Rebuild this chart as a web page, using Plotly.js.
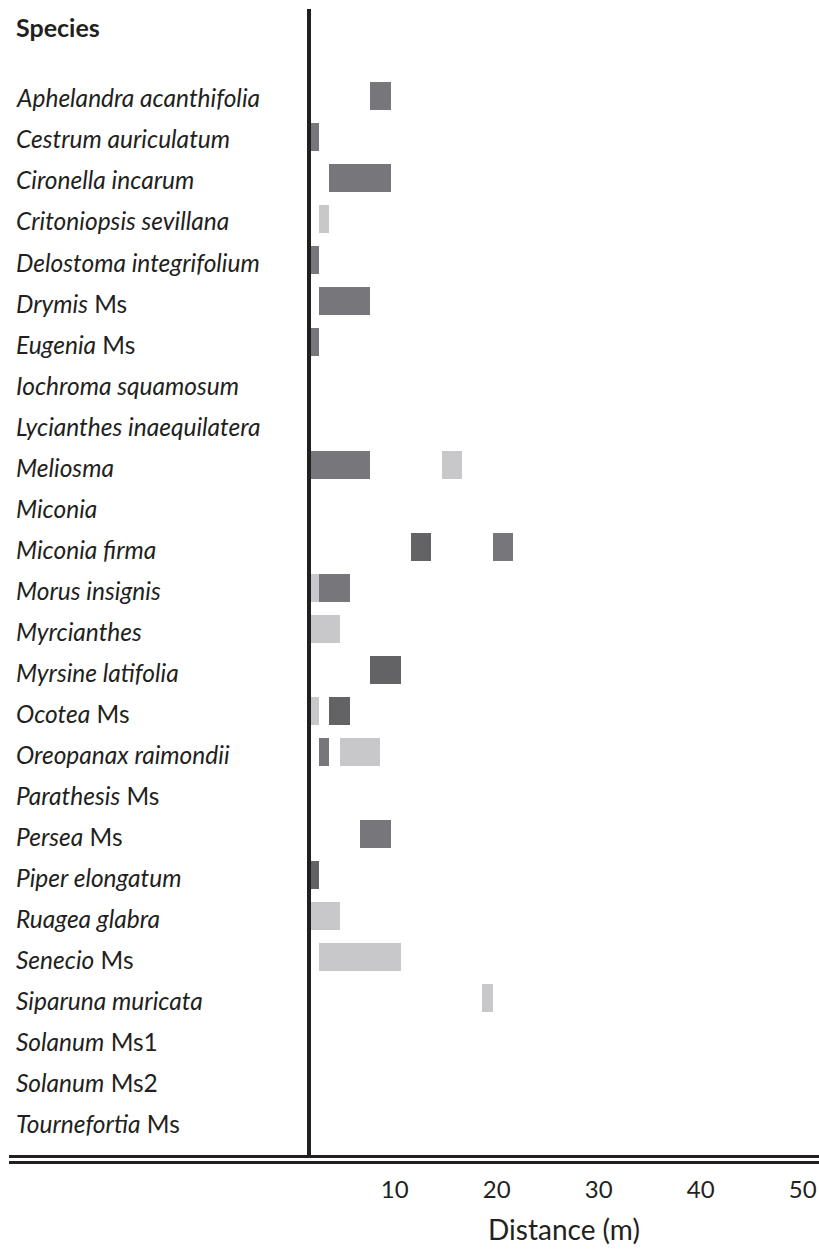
<!DOCTYPE html>
<html>
<head>
<meta charset="utf-8">
<script src="https://cdn.plot.ly/plotly-3.0.1.min.js"></script>
<style>html,body{margin:0;padding:0;background:#fff;}#chart{width:819px;height:1250px;}</style>
</head>
<body>
<div id="chart"></div>
<script>
// ---- Data ----
var speciesGenus = ["Aphelandra acanthifolia","Cestrum auriculatum","Cironella incarum","Critoniopsis sevillana","Delostoma integrifolium","Drymis","Eugenia","Iochroma squamosum","Lycianthes inaequilatera","Meliosma","Miconia","Miconia firma","Morus insignis","Myrcianthes","Myrsine latifolia","Ocotea","Oreopanax raimondii","Parathesis","Persea","Piper elongatum","Ruagea glabra","Senecio","Siparuna muricata","Solanum","Solanum","Tournefortia"];
var speciesQualifier = ["","","","","","Ms","Ms","","","","","","","","","Ms","","Ms","Ms","","","Ms","","Ms1","Ms2","Ms"];

// medium grey segments
var mediumSpecies = ["Aphelandra acanthifolia","Cestrum auriculatum","Cironella incarum","Delostoma integrifolium","Drymis Ms","Eugenia Ms","Meliosma","Miconia firma","Morus insignis","Oreopanax raimondii","Persea Ms"];
var mediumStart = [6,0,2,0,1,0,0,18,1,1,5];
var mediumEnd   = [8,1,8,1,6,1,6,20,4,2,8];
// dark grey segments
var darkSpecies = ["Miconia firma","Myrsine latifolia","Ocotea Ms","Piper elongatum"];
var darkStart = [10,6,2,0];
var darkEnd   = [12,9,4,1];
// light grey segments
var lightSpecies = ["Critoniopsis sevillana","Meliosma","Morus insignis","Myrcianthes","Ocotea Ms","Oreopanax raimondii","Ruagea glabra","Senecio Ms","Siparuna muricata"];
var lightStart = [1,13,0,0,0,3,0,1,17];
var lightEnd   = [2,15,1,3,1,7,3,9,18];

var tickValues = [10,20,30,40,50];
var tickLabels = ["10","20","30","40","50"];

// ---- Build ----
var categories = speciesGenus.map(function(g,i){ return speciesQualifier[i] ? g+" "+speciesQualifier[i] : g; });
function seg(names, s, e, color){
  return {type:"bar", orientation:"h", y:names, base:s,
    x:e.map(function(v,i){return v - s[i];}),
    marker:{color:color, line:{width:0}}, width:0.68, hoverinfo:"skip", showlegend:false};
}
var data = [
  seg(mediumSpecies, mediumStart, mediumEnd, "#77777b"),
  seg(darkSpecies, darkStart, darkEnd, "#636366"),
  seg(lightSpecies, lightStart, lightEnd, "#c8c8ca")
];

var FONT = "Lato, 'Open Sans', sans-serif";
var W = 819, H = 1250, mL = 309, mR = 0, mT = 9, mB = 93;
var plotW = W - mL - mR, plotH = H - mT - mB;
function px2paperX(px){ return (px - mL)/plotW; }
function px2paperY(py){ return (H - mB - py)/plotH; }

var labelShift = 1.6; // labels printed slightly left of their nominal position
var annotations = categories.map(function(c,i){
  var txt = "<i>"+speciesGenus[i]+"</i>" + (speciesQualifier[i] ? " "+speciesQualifier[i] : "");
  return {xref:"paper", yref:"y", x:px2paperX(14), y:c, xanchor:"left", yanchor:"middle",
    text:txt, showarrow:false, font:{family:FONT, size:24.5, color:"#231f20"}, yshift:-2};
});
annotations.push({xref:"paper", yref:"paper", x:px2paperX(14), y:px2paperY(27), xanchor:"left", yanchor:"middle",
  text:"<b>Species</b>", showarrow:false, font:{family:FONT, size:25, color:"#231f20"}});

var shapes = [
  {type:"line", xref:"paper", yref:"paper", x0:0, x1:0, y0:px2paperY(1155), y1:px2paperY(9), line:{color:"#231f20", width:4}, layer:"above"},
  {type:"line", xref:"paper", yref:"paper", x0:px2paperX(9), x1:1, y0:px2paperY(1156.5), y1:px2paperY(1156.5), line:{color:"#231f20", width:3}, layer:"above"},
  {type:"line", xref:"paper", yref:"paper", x0:px2paperX(9), x1:1, y0:px2paperY(1162.5), y1:px2paperY(1162.5), line:{color:"#231f20", width:3}, layer:"above"}
];

var layout = {
  width:W, height:H, margin:{l:mL, r:mR, t:mT, b:mB},
  paper_bgcolor:"#fff", plot_bgcolor:"#fff",
  barmode:"overlay", bargap:0,
  font:{family:FONT, color:"#231f20"},
  xaxis:{range:[0,50], showgrid:false, zeroline:false, showline:false, ticks:"",
    tickmode:"array", tickvals:tickValues.map(function(v){return v - labelShift;}), ticktext:tickLabels,
    tickfont:{family:FONT, size:24, color:"#231f20"}, ticklabelstandoff:16,
    title:{text:"Distance (m)", font:{family:FONT, size:28, color:"#231f20"}, standoff:18}, fixedrange:true},
  yaxis:{type:"category", categoryorder:"array", categoryarray:categories,
    range:[25.87, -2.12], showgrid:false, zeroline:false, showline:false, showticklabels:false, ticks:"", fixedrange:true},
  annotations:annotations, shapes:shapes, showlegend:false
};
Plotly.newPlot("chart", data, layout, {staticPlot:true, displayModeBar:false});
</script>
</body>
</html>
